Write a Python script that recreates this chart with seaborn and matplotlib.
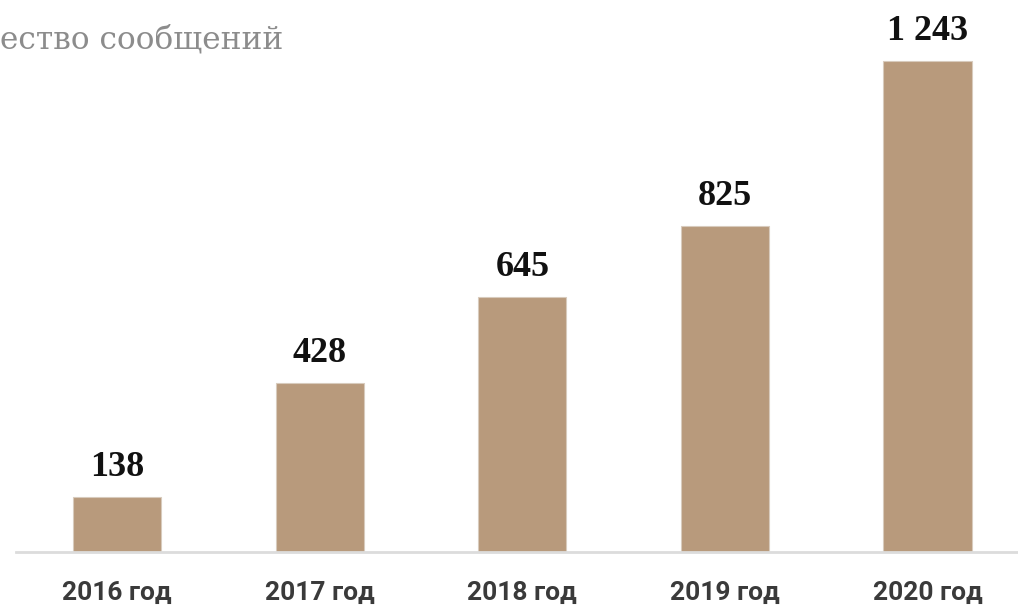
import matplotlib
matplotlib.use("Agg")
import matplotlib.pyplot as plt
import seaborn as sns
import pandas as pd

categories = ["2016 год", "2017 год", "2018 год", "2019 год", "2020 год"]
values = [138, 428, 645, 825, 1243]
value_labels = ["138", "428", "645", "825", "1 243"]
title = "ество сообщений"

sns.set_theme(style="white")
plt.rcParams['font.family'] = ['DejaVu Sans']

df = pd.DataFrame({"year": categories, "count": values})

fig = plt.figure(figsize=(10.18, 6.11), dpi=100)
ax = fig.add_axes([16/1018, 59/611, 1002/1018, 552/611])

sns.barplot(data=df, x="year", y="count", color="#b89a7c", saturation=1,
            width=0.435, edgecolor="#d8cbbd", linewidth=0.8, ax=ax)

ax.set_xlim(-0.5, 4.447)
ax.set_ylim(0, 1397.5)
for s in ["top", "right", "left"]:
    ax.spines[s].set_visible(False)
ax.spines["bottom"].set_color("#dcdcdc")
ax.spines["bottom"].set_linewidth(2)
ax.set_yticks([])
ax.set_xlabel("")
ax.set_ylabel("")
ax.tick_params(axis="x", length=0, pad=21)
for t in ax.get_xticklabels():
    t.set_fontfamily("Roboto")
    t.set_fontweight("bold")
    t.set_fontsize(19)
    t.set_color("#3a3a3a")

for i, (v, lab) in enumerate(zip(values, value_labels)):
    ax.annotate(lab, (i, v), xytext=(0, 13), textcoords="offset pixels",
                ha="center", va="bottom", fontsize=26, fontweight="bold",
                family="Liberation Serif", color="#111111")

fig.text(0 / 1018, 1 - 40 / 611, title, ha="left", va="center",
         fontsize=22.5, family="DejaVu Serif", color="#8c8c8c")

fig.savefig("out.png", dpi=100)
